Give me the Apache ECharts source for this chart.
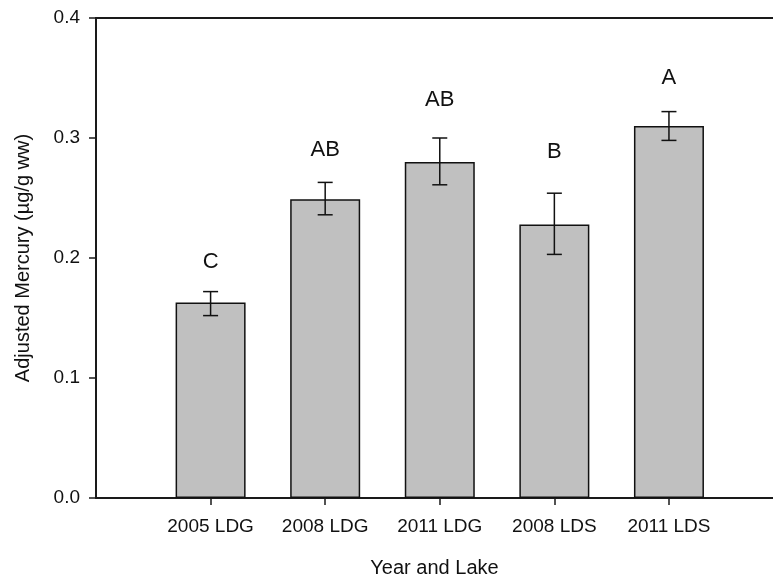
<!DOCTYPE html>
<html><head><meta charset="utf-8">
<script src="https://cdn.jsdelivr.net/npm/echarts@6/dist/echarts.min.js"></script>
<style>html,body{margin:0;padding:0;background:#fff}#c{width:773px;height:577px}</style>
</head><body><div id="c"></div>
<script>
const categories = ['2005 LDG', '2008 LDG', '2011 LDG', '2008 LDS', '2011 LDS'];
const means = [0.163, 0.249, 0.280, 0.228, 0.310];
const errLow = [0.152, 0.236, 0.261, 0.203, 0.298];
const errHigh = [0.172, 0.263, 0.300, 0.254, 0.322];
const letters = ['C', 'AB', 'AB', 'B', 'A'];
const letterPos = [0.197, 0.290, 0.332, 0.288, 0.350];
const yTicks = [0, 0.1, 0.2, 0.3, 0.4];
const xPositions = [1, 2, 3, 4, 5];

const font = '"Liberation Sans", Arial, sans-serif';
const chart = echarts.init(document.getElementById('c'), null, {renderer: 'canvas'});
const barData = means.map((v, i) => [xPositions[i], v]);
const errData = means.map((v, i) => [xPositions[i], errLow[i], errHigh[i]]);
const letterData = letters.map((l, i) => [xPositions[i], letterPos[i]]);

chart.setOption({
  animation: false,
  grid: {left: 96, top: 18, right: 0, height: 480, outerBoundsMode: 'none', containLabel: false},
  xAxis: [{
    type: 'value', min: 0, max: 5.908,
    name: 'Year and Lake', nameLocation: 'middle', nameGap: 60,
    nameTextStyle: {fontFamily: font, fontSize: 20, color: '#111'},
    axisLine: {show: true, lineStyle: {color: '#1a1a1a', width: 2}},
    axisTick: {show: true, length: 7, customValues: xPositions, lineStyle: {color: '#1a1a1a', width: 1.5}},
    axisLabel: {margin: 19, fontFamily: font, fontSize: 19, color: '#111', customValues: xPositions,
      formatter: v => { const i = xPositions.indexOf(Math.round(v)); return i >= 0 ? categories[i] : ''; }},
    splitLine: {show: false}
  }, {
    type: 'value', position: 'top', min: 0, max: 5.908,
    axisLine: {show: true, lineStyle: {color: '#1a1a1a', width: 2}},
    axisTick: {show: false}, axisLabel: {show: false}, splitLine: {show: false}
  }],
  yAxis: {
    type: 'value', min: 0, max: 0.4, interval: 0.1,
    name: 'Adjusted Mercury (µg/g ww)', nameLocation: 'middle', nameGap: 63,
    nameTextStyle: {fontFamily: font, fontSize: 20, color: '#111'},
    axisLine: {show: true, lineStyle: {color: '#1a1a1a', width: 2}},
    axisTick: {show: true, length: 7, lineStyle: {color: '#1a1a1a', width: 1.5}},
    axisLabel: {margin: 16, fontFamily: font, fontSize: 19, color: '#111',
      formatter: v => { const t = yTicks.find(x => Math.abs(x - v) < 1e-9); return t !== undefined ? t.toFixed(1) : ''; }},
    splitLine: {show: false}
  },
  series: [{
    type: 'bar', data: barData, barWidth: 70, z: 2,
    itemStyle: {color: '#c0c0c0', borderColor: '#111', borderWidth: 1.5}
  }, {
    type: 'custom', data: errData, z: 5,
    renderItem: (params, api) => {
      const x = api.value(0);
      const lo = api.coord([x, api.value(1)]);
      const hi = api.coord([x, api.value(2)]);
      const hw = 7.5;
      const st = {stroke: '#111', lineWidth: 1.5};
      return {type: 'group', children: [
        {type: 'line', shape: {x1: lo[0], y1: lo[1], x2: hi[0], y2: hi[1]}, style: st},
        {type: 'line', shape: {x1: lo[0] - hw, y1: lo[1], x2: lo[0] + hw, y2: lo[1]}, style: st},
        {type: 'line', shape: {x1: hi[0] - hw, y1: hi[1], x2: hi[0] + hw, y2: hi[1]}, style: st}
      ]};
    }
  }, {
    type: 'custom', data: letterData, z: 5,
    renderItem: (params, api) => {
      const p = api.coord([api.value(0), api.value(1)]);
      return {type: 'text', x: p[0], y: p[1], style: {
        text: letters[params.dataIndex], fontFamily: font, fontSize: 22, fill: '#111',
        align: 'center', verticalAlign: 'middle'}};
    }
  }]
});
</script></body></html>
